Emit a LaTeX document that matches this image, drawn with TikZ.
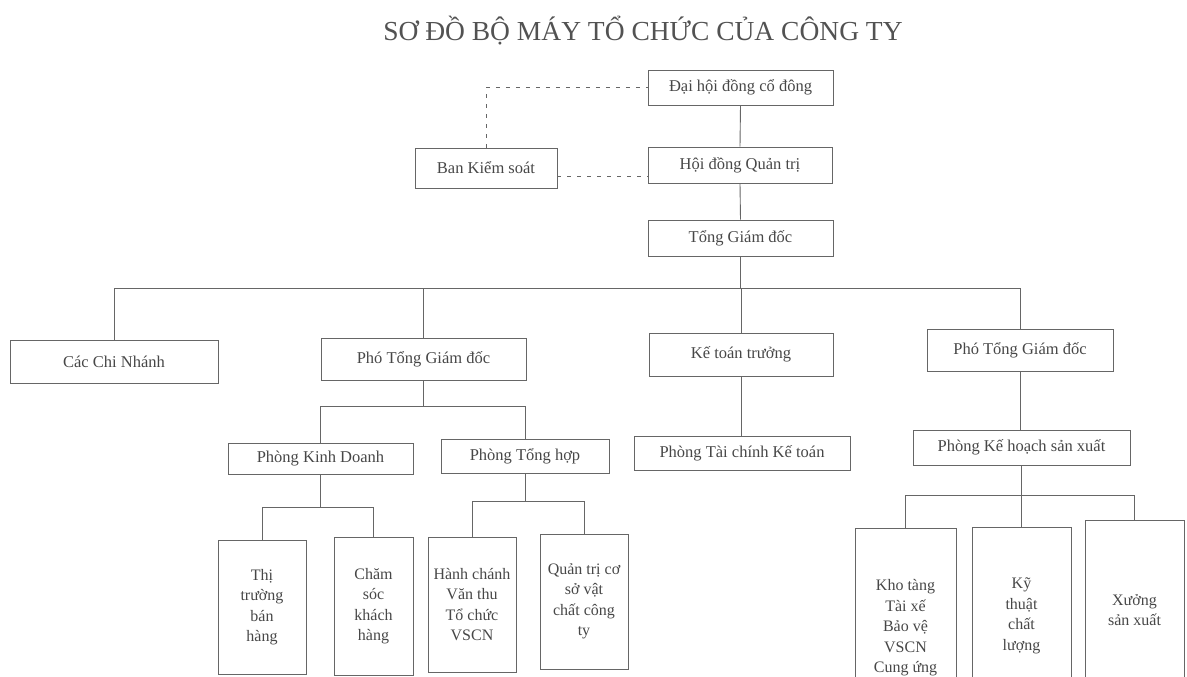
\documentclass[tikz,border=0pt]{standalone}
\usepackage{fontspec}
\setmainfont{Liberation Serif}
\colorlet{linecol}{black!60}
\colorlet{textcol}{black!72}
\colorlet{titlecol}{black!68}
\tikzset{every node/.style={font=\fontsize{16.5}{20}\selectfont, text=textcol}}
\tikzset{
  unit/.style 2 args={draw=linecol, line width=0.9pt, inner sep=0pt,
    minimum width=#1, minimum height=#2},
  leaf/.style 2 args={unit={#1}{#2}, align=center,
    font=\fontsize{16}{20.5}\selectfont},
  link/.style={draw=linecol, line width=0.9pt},
  dashlink/.style={link, line width=1pt, dash pattern=on 4pt off 6pt}
}

\begin{document}
\begin{tikzpicture}[x=1pt, y=-1pt]

  \useasboundingbox (0,0) rectangle (1187,677);
  \clip (0,0) rectangle (1187,677);

  % Title.
  \node[anchor=base, font=\fontsize{27.5}{30}\selectfont, text=titlecol] (title)
    at (643,41) {SƠ ĐỒ BỘ MÁY TỔ CHỨC CỦA CÔNG TY};

  % Top levels.
  \node[unit={185pt}{35pt}] (dhcd) at (740.5,87.5) {Đại hội đồng cổ đông};
  \node[unit={184pt}{36pt}] (hdqt) at (740,165) {Hội đồng Quản trị};
  \node[unit={142pt}{40pt}] (bks)  at (486,168) {Ban Kiểm soát};
  \node[unit={185pt}{36pt}] (tgd)  at (740.5,238) {Tổng Giám đốc};

  % Second row.
  \node[unit={208pt}{43pt}] (ccn)   at (114,361.5) {Các Chi Nhánh};
  \node[unit={205pt}{42pt}] (ptgdA) at (423.5,359) {Phó Tổng Giám đốc};
  \node[unit={184pt}{43pt}] (ktt)   at (741,354.5) {Kế toán trưởng};
  \node[unit={186pt}{42pt}] (ptgdB) at (1020,350) {Phó Tổng Giám đốc};

  % Departments.
  \node[unit={185pt}{31pt}] (pkd)   at (320.5,458.5) {Phòng Kinh Doanh};
  \node[unit={168pt}{34pt}] (pth)   at (525,456) {Phòng Tổng hợp};
  \node[unit={216pt}{34pt}] (ptckt) at (742,453) {Phòng Tài chính Kế toán};
  \node[unit={217pt}{35pt}] (pkhsx) at (1021.5,447.5) {Phòng Kế hoạch sản xuất};

  % Bottom row.
  \node[leaf={88pt}{134pt}] (tt) at (262,607) {Thị\\trường\\bán\\hàng};
  \node[leaf={79pt}{138pt}] (cs) at (373.5,606) {Chăm\\sóc\\khách\\hàng};
  \node[leaf={88pt}{135pt}] (hc) at (472,604.5) {Hành chánh\\Văn thu\\Tổ chức\\VSCN};
  \node[leaf={88pt}{135pt}] (qt) at (584,601.5) {Quản trị cơ\\sở vật\\chất công\\ty};
  \node[leaf={101pt}{200pt}] (kt)  at (905.5,628) {Kho tàng\\Tài xế\\Bảo vệ\\VSCN\\Cung ứng};
  \node[leaf={99pt}{178pt}]  (ky)  at (1021.5,616) {Kỹ\\thuật\\chất\\lượng};
  \node[leaf={99pt}{180pt}]  (xsx) at (1134.5,610) {Xưởng\\sản xuất};

  % Dashed links to the supervisory board.
  \draw[dashlink] (bks.north) |- (dhcd.west);
  \draw[dashlink] ([yshift=-8pt]bks.east) -- ([yshift=-8pt]bks.east -| hdqt.west);

  % Main chain.
  \draw[link] (dhcd.south) -- (hdqt.north);
  \draw[link] (hdqt.south) -- (tgd.north);

  % Branch buses.
  \coordinate (busA) at (740.5,288);
  \coordinate (busB) at (423.5,406);
  \coordinate (busC) at (320.5,507);
  \coordinate (busD) at (525,501);
  \coordinate (busE) at (1021.5,495);

  \draw[link] (tgd.south) -- (busA);
  \foreach \c in {ccn,ptgdA,ktt,ptgdB}
    \draw[link] (busA) -| (\c.north);

  \draw[link] (ptgdA.south) -- (busB);
  \foreach \c in {pkd,pth}
    \draw[link] (busB) -| (\c.north);

  \draw[link] (pkd.south) -- (busC);
  \foreach \c in {tt,cs}
    \draw[link] (busC) -| (\c.north);

  \draw[link] (pth.south) -- (busD);
  \foreach \c in {hc,qt}
    \draw[link] (busD) -| (\c.north);

  \draw[link] (ktt.south) -- (ktt.south |- ptckt.north);
  \draw[link] (ptgdB.south) -- (ptgdB.south |- pkhsx.north);

  \draw[link] (pkhsx.south) -- (busE);
  \foreach \c in {kt,ky,xsx}
    \draw[link] (busE) -| (\c.north);

\end{tikzpicture}
\end{document}
